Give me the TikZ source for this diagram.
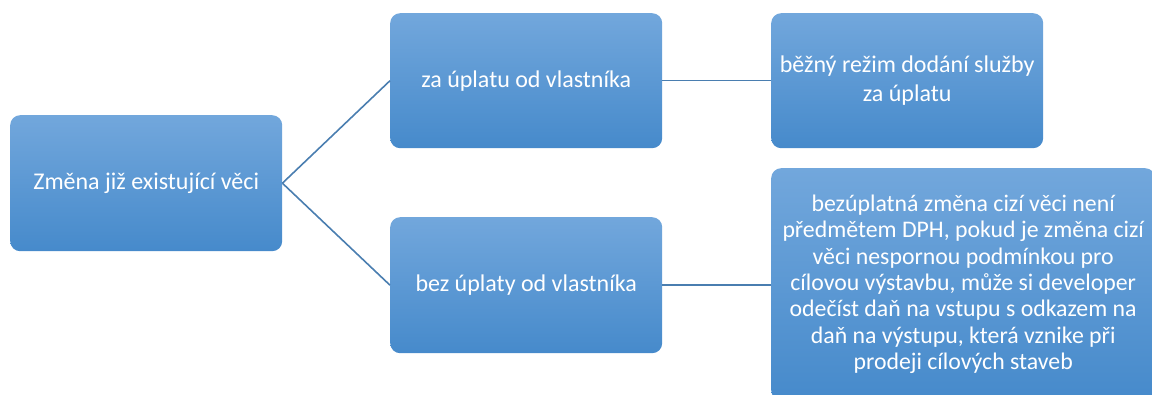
\documentclass[tikz,border=0pt]{standalone}
\usepackage{fontspec}
\setmainfont{Carlito}
\definecolor{boxtop}{HTML}{72A7DC}
\definecolor{boxbot}{HTML}{468ACB}
\definecolor{linec}{HTML}{4A7EB0}
\tikzset{
  box/.style={rounded corners=10pt, top color=boxtop, bottom color=boxbot, draw=none,
    text=white, font=\fontsize{24}{29}\selectfont, align=center, inner sep=0pt, anchor=north west},
  conn/.style={draw=linec, line width=1.6pt}
}
\begin{document}
\begin{tikzpicture}[x=1pt,y=-1pt]
\useasboundingbox (0,0) rectangle (1152,395);
\node[box, minimum width=272pt, minimum height=136pt] (root) at (10,115) {Změna již existující věci};
\node[box, minimum width=272pt, minimum height=135pt] (a) at (390,13) {za úplatu od vlastníka};
\node[box, minimum width=272pt, minimum height=136pt] (b) at (390,217) {bez úplaty od vlastníka};
\node[box, minimum width=272pt, minimum height=135pt] (a1) at (771,13) {běžný režim dodání služby\\za úplatu};
\node[box, minimum width=384pt, minimum height=232pt, font=\fontsize{23.8}{26.3}\selectfont] (b1) at (771,168) {bezúplatná změna cizí věci není\\předmětem DPH, pokud je změna cizí\\věci nespornou podmínkou pro\\cílovou výstavbu, může si developer\\odečíst daň na vstupu s odkazem na\\daň na výstupu, která vznike při\\prodeji cílových staveb};
\draw[conn] (root.east) -- (a.west);
\draw[conn] (root.east) -- (b.west);
\draw[conn] (a.east) -- (a1.west |- a.east);
\draw[conn] (b.east) -- (b1.west |- b.east);
\end{tikzpicture}
\end{document}
